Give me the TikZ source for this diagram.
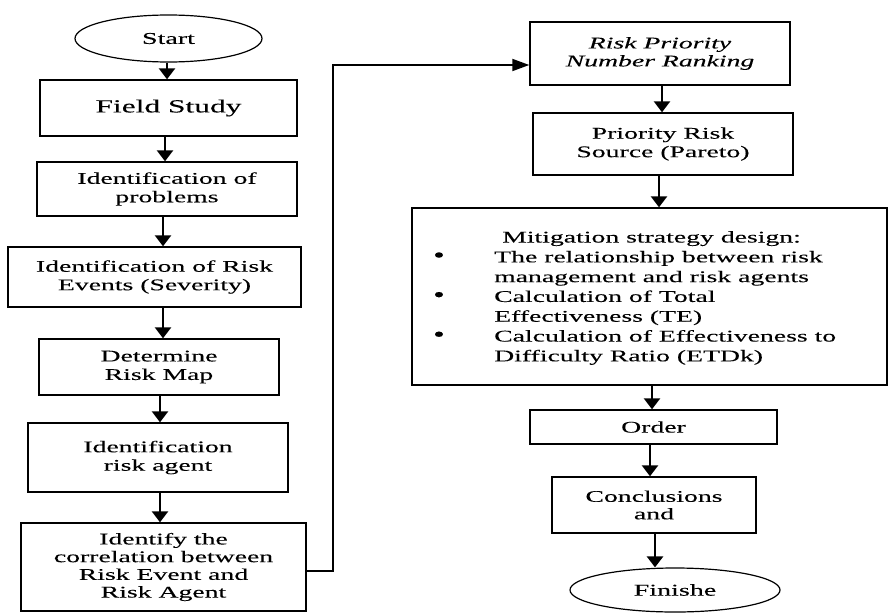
\documentclass[tikz,border=0pt]{standalone}
\usepackage{fontspec}
\setmainfont{Liberation Serif}[FakeStretch=1.7,FakeBold=0.1]
\newfontfamily\bulletfont{Liberation Serif}[FakeStretch=1.5,FakeBold=0.5]
\usetikzlibrary{arrows.meta,shapes.geometric}
\begin{document}
\begin{tikzpicture}[x=1pt,y=-1pt,
  box/.style={draw, line width=1.4pt, rectangle, inner sep=0pt, align=center, font=\fontsize{16.3}{18.5}\selectfont},
  term/.style={draw, line width=1.2pt, ellipse, inner sep=0pt, font=\fontsize{16.5}{18.5}\selectfont},
  arr/.style={line width=2.6pt, -{Triangle[width=16pt,length=11pt]}},
  conn/.style={line width=1.8pt, -{Triangle[width=12pt,length=17pt]}}
]
\useasboundingbox (0,0) rectangle (888,613);
% left column
\node[term, minimum width=187pt, minimum height=47pt] (start) at (168.5,38.5) {Start};
\node[box, minimum width=257pt, minimum height=56pt, font=\fontsize{18.5}{20}\selectfont] (field) at (168.5,108) {Field Study};
\node[box, minimum width=260pt, minimum height=54pt] (prob) at (167,189) {Identification of\\problems};
\node[box, minimum width=293pt, minimum height=60pt] (events) at (154.5,277) {Identification of Risk\\Events (Severity)};
\node[box, minimum width=240pt, minimum height=56pt] (map) at (159,367) {Determine\\Risk Map};
\node[box, minimum width=260pt, minimum height=69pt] (agent) at (158,457.5) {Identification\\risk agent};
\node[box, minimum width=285pt, minimum height=88pt, font=\fontsize{16.3}{17.7}\selectfont] (corr) at (163.5,567) {Identify the\\correlation between\\Risk Event and\\Risk Agent};
% right column
\node[box, minimum width=260pt, minimum height=63pt, font=\fontsize{16.3}{18}\itshape] (rpn) at (660,53.5) {Risk Priority\\Number Ranking};
\node[box, minimum width=260pt, minimum height=62pt] (prs) at (663,144) {Priority Risk\\Source (Pareto)};
\node[box, minimum width=475pt, minimum height=177pt] (mit) at (649.5,296.5) {};
\node[anchor=north west, inner sep=0pt, align=left, font=\fontsize{16.3}{19.8}\selectfont] (mittext) at (433,231) {%
\hspace*{69pt}Mitigation strategy design:\\
\makebox[61pt][l]{\fontsize{22}{19.8}\bulletfont\textbullet}The relationship between risk\\
\hspace*{61pt}management and risk agents\\
\makebox[61pt][l]{\fontsize{22}{19.8}\bulletfont\textbullet}Calculation of Total\\
\hspace*{61pt}Effectiveness (TE)\\
\makebox[61pt][l]{\fontsize{22}{19.8}\bulletfont\textbullet}Calculation of Effectiveness to\\
\hspace*{61pt}Difficulty Ratio (ETDk)};
\node[box, minimum width=247pt, minimum height=34pt] (order) at (653.5,427) {Order};
\node[box, minimum width=204pt, minimum height=56pt, font=\fontsize{16.3}{17.5}\selectfont] (concl) at (654,505) {Conclusions\\and};
\node[term, minimum width=210pt, minimum height=44pt] (fin) at (675,590) {Finishe};
% arrows left
\draw[arr] ([xshift=-1.5pt]start.south) -- ([xshift=-1.5pt]start.south |- field.north);
\draw[arr] ([xshift=-3.5pt]field.south) -- ([xshift=-3.5pt]field.south |- prob.north);
\draw[arr] ([xshift=-4pt]prob.south) -- ([xshift=-4pt]prob.south |- events.north);
\draw[arr] ([xshift=8.5pt]events.south) -- ([xshift=8.5pt]events.south |- map.north);
\draw[arr] ([xshift=1pt]map.south) -- ([xshift=1pt]map.south |- agent.north);
\draw[arr] ([xshift=2pt]agent.south) -- ([xshift=2pt]agent.south |- corr.north);
% connector
\draw[conn] ([yshift=-4pt]corr.east) -- ++(26,0) |- ([yshift=-11.5pt]rpn.west);
% arrows right
\draw[arr] ([xshift=2pt]rpn.south) -- ([xshift=2pt]rpn.south |- prs.north);
\draw[arr] ([xshift=-4pt]prs.south) -- ([xshift=-4pt]prs.south |- mit.north);
\draw[arr] ([xshift=2.5pt]mit.south) -- ([xshift=2.5pt]mit.south |- order.north);
\draw[arr] ([xshift=-3.5pt]order.south) -- ([xshift=-3.5pt]order.south |- concl.north);
\draw[arr] ([xshift=1pt]concl.south) -- ([xshift=1pt]concl.south |- fin.north);
\end{tikzpicture}
\end{document}
